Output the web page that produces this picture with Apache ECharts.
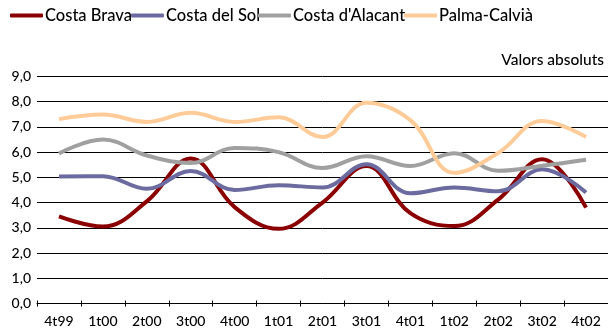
<!DOCTYPE html>
<html>
<head>
<meta charset="utf-8">
<script src="https://cdn.jsdelivr.net/npm/echarts@6/dist/echarts.min.js"></script>
<style>
  html, body { margin: 0; padding: 0; background: #fff; }
  #chart { width: 608px; height: 331px; }
</style>
</head>
<body>
<div id="chart"></div>
<script>
// Quarterly periods
const quarters = ['4t99', '1t00', '2t00', '3t00', '4t00', '1t01', '2t01', '3t01', '4t01', '1t02', '2t02', '3t02', '4t02'];

// Series values (absolute values)
const costaBrava   = [3.45, 3.05, 4.05, 5.75, 3.82, 2.96, 4.0, 5.45, 3.58, 3.07, 4.12, 5.72, 3.8];
const costaDelSol  = [5.04, 5.05, 4.55, 5.25, 4.5, 4.69, 4.6, 5.52, 4.37, 4.6, 4.45, 5.32, 4.4];
const costaAlacant = [5.95, 6.5, 5.87, 5.57, 6.17, 6.0, 5.37, 5.84, 5.45, 5.96, 5.26, 5.46, 5.7];
const palmaCalvia  = [7.31, 7.49, 7.2, 7.56, 7.2, 7.38, 6.6, 7.96, 7.27, 5.18, 5.97, 7.24, 6.6];

// Y axis ticks
const yMin = 0, yMax = 9, yStep = 1;

const seriesNames  = ['Costa Brava', 'Costa del Sol', "Costa d'Alacant", 'Palma-Calvià'];
const seriesData   = [costaBrava, costaDelSol, costaAlacant, palmaCalvia];
const seriesColors = ['#8b0000', '#6b6b9f', '#a0a0a0', '#ffcc99'];

const fontFamily = 'Lato, "Noto Sans", sans-serif';
const fontWeight = 500;

// legend entries placed one by one across the top
const legendLeft = [10, 131, 258, 404];

const chart = echarts.init(document.getElementById('chart'), null, { renderer: 'canvas' });

chart.setOption({
  animation: false,
  backgroundColor: '#ffffff',
  textStyle: { fontFamily: fontFamily, color: '#000', fontWeight: fontWeight },
  title: {
    text: 'Valors absoluts',
    right: 4,
    top: 52,
    padding: 0,
    textStyle: { fontSize: 15.5, fontWeight: fontWeight, color: '#000', fontFamily: fontFamily }
  },
  legend: seriesNames.map((name, i) => ({
    left: legendLeft[i],
    top: 7,
    padding: 0,
    itemWidth: 33,
    itemHeight: 4,
    icon: 'roundRect',
    textStyle: { fontSize: 16.5, fontWeight: fontWeight, color: '#000', fontFamily: fontFamily, padding: [0, 0, 0, -3] },
    data: [name]
  })),
  grid: {
    left: 37,
    top: 76.5,
    width: 572,
    height: 227,
    containLabel: false
  },
  xAxis: [
    {
      type: 'category',
      data: quarters,
      boundaryGap: true,
      axisLine: { show: true, lineStyle: { color: '#000', width: 1 } },
      axisTick: { show: true, length: 3, lineStyle: { color: '#000' } },
      axisLabel: { margin: 11, fontSize: 14, fontWeight: fontWeight, color: '#000', fontFamily: fontFamily, interval: 0 },
      splitLine: { show: false }
    },
    {
      // inner half of the tick marks, so they cross the axis line
      type: 'category',
      data: quarters,
      position: 'bottom',
      boundaryGap: true,
      axisLine: { show: false },
      axisTick: { show: true, inside: true, length: 3, lineStyle: { color: '#000' } },
      axisLabel: { show: false },
      splitLine: { show: false }
    }
  ],
  yAxis: {
    type: 'value',
    min: yMin,
    max: yMax,
    interval: yStep,
    axisLine: { show: false },
    axisTick: { show: false },
    axisLabel: {
      margin: 6,
      fontSize: 14,
      fontWeight: fontWeight,
      color: '#000',
      fontFamily: fontFamily,
      formatter: v => v.toFixed(1).replace('.', ',')
    },
    splitLine: { show: true, lineStyle: { color: '#000', width: 1 } }
  },
  series: seriesNames.map((name, i) => ({
    name: name,
    type: 'line',
    xAxisIndex: 0,
    data: seriesData[i],
    smooth: 0.4,
    symbol: 'none',
    lineStyle: { color: seriesColors[i], width: 4 },
    itemStyle: { color: seriesColors[i] }
  }))
});
</script>
</body>
</html>
